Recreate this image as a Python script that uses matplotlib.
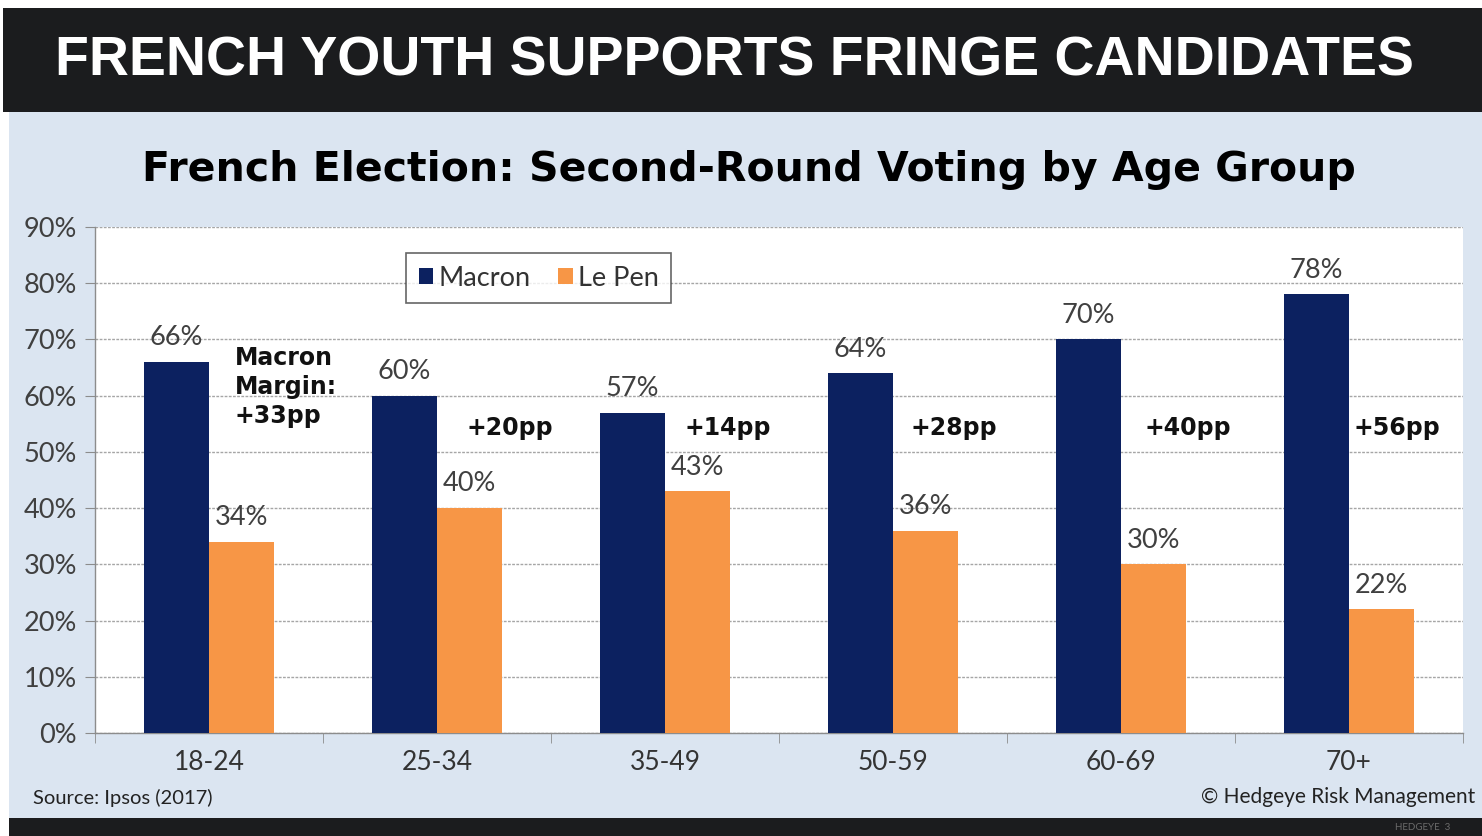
import matplotlib
matplotlib.use("Agg")
import matplotlib.pyplot as plt
from matplotlib.patches import Rectangle
import numpy as np

# ---- data ----
age_groups = ["18-24", "25-34", "35-49", "50-59", "60-69", "70+"]
macron = [66, 60, 57, 64, 70, 78]
le_pen = [34, 40, 43, 36, 30, 22]
margins = ["Macron\nMargin:\n+33pp", "+20pp", "+14pp", "+28pp", "+40pp", "+56pp"]
y_ticks = [0, 10, 20, 30, 40, 50, 60, 70, 80, 90]

# ---- layout (not data) ----
margin_dx = [0.114, 0.318, 0.277, 0.267, 0.294, 0.21]
margin_y = [61.5, 54.3, 54.3, 54.3, 54.3, 54.3]

NAVY = "#0c2160"
ORANGE = "#f79646"
BG = "#dbe5f1"
W, H = 1482, 836

fig = plt.figure(figsize=(W / 100, H / 100), dpi=100)
fig.patch.set_facecolor(BG)
renderer = fig.canvas.get_renderer()

def px_rect(x0, y0, x1, y1, color):
    fig.add_artist(Rectangle((x0 / W, 1 - y1 / H), (x1 - x0) / W, (y1 - y0) / H,
                             transform=fig.transFigure, facecolor=color,
                             edgecolor="none", zorder=0))

def fit_width(t, target_px):
    w = t.get_window_extent(renderer).width
    t.set_fontsize(t.get_fontsize() * target_px / w)

px_rect(0, 0, W, 8, "white")
px_rect(0, 0, 9, H, "white")
px_rect(3, 8, W, 112, "#1b1c1e")
px_rect(9, 818, W, H, "#1b1c1e")

t1 = fig.text(55 / W, 1 - 62 / H, "FRENCH YOUTH SUPPORTS FRINGE CANDIDATES",
              color="white", fontsize=35, fontweight="bold", family="Liberation Sans",
              ha="left", va="center")
fit_width(t1, 1358)

t2 = fig.text(749 / W, 1 - 170 / H, "French Election: Second-Round Voting by Age Group",
              color="black", fontsize=29, fontweight="bold", family="DejaVu Sans",
              ha="center", va="center")
fit_width(t2, 1212)

ax = fig.add_axes([95 / W, (H - 733) / H, 1368 / W, 506 / H])
ax.set_facecolor("white")

x = np.arange(len(age_groups))
bw = 0.285
ax.bar(x - bw / 2, macron, bw, color=NAVY, label="Macron", zorder=3)
ax.bar(x + bw / 2, le_pen, bw, color=ORANGE, label="Le Pen", zorder=3)

for xi, v in zip(x, macron):
    ax.text(xi - bw / 2, v + 4.3, f"{v}%", ha="center", va="center",
            fontsize=19.5, color="#404040", family="Lato")
for xi, v in zip(x, le_pen):
    ax.text(xi + bw / 2, v + 4.3, f"{v}%", ha="center", va="center",
            fontsize=19.5, color="#404040", family="Lato")

for xi, m, dx, my in zip(x, margins, margin_dx, margin_y):
    ax.text(xi + dx, my, m, ha="left" if "\n" in m else "center", va="center",
            fontsize=17, fontweight="bold", color="#111111", family="DejaVu Sans",
            linespacing=1.25)

ax.set_xlim(-0.5, len(age_groups) - 0.5)
ax.set_ylim(0, 90)
ax.set_yticks(y_ticks)
ax.set_yticklabels([f"{t}%" for t in y_ticks])
ax.yaxis.grid(True, color="#a6a6a6", linestyle=(0, (2, 1)), linewidth=1, zorder=0)
ax.set_axisbelow(True)

ax.set_xticks(x)
ax.set_xticklabels(age_groups)
ax.set_xticks(np.arange(-0.5, len(age_groups)), minor=True)
ax.tick_params(axis="x", which="major", length=0, pad=12, labelsize=19,
               labelcolor="#333333")
ax.tick_params(axis="x", which="minor", length=7, color="#8c8c8c", direction="out")
ax.tick_params(axis="y", length=7, color="#8c8c8c", labelsize=19.5,
               labelcolor="#404040", pad=6)
for lab in ax.get_xticklabels() + ax.get_yticklabels():
    lab.set_family("Lato")

for s in ["top", "right"]:
    ax.spines[s].set_visible(False)
for s in ["left", "bottom"]:
    ax.spines[s].set_color("#8c8c8c")
    ax.spines[s].set_linewidth(1)

leg = ax.legend(loc="center", bbox_to_anchor=(0.3245, 0.899), ncol=2,
                frameon=True, fancybox=False, edgecolor="#404040",
                handlelength=0.55, handleheight=0.55,
                handletextpad=0.2, columnspacing=1.0, borderpad=0.45,
                prop={"family": "Lato", "size": 19.5})
leg.get_frame().set_linewidth(1.2)
for t in leg.get_texts():
    t.set_color("#333333")

fig.text(33 / W, 1 - 798 / H, "Source: Ipsos (2017)", fontsize=14.5,
         color="#222222", family="Lato", ha="left", va="center")
fig.text(1475 / W, 1 - 797 / H, "\u00a9 Hedgeye Risk Management", fontsize=15,
         color="#222222", family="Lato", ha="right", va="center")
fig.text(1450 / W, 1 - 828 / H, "HEDGEYE  3", fontsize=7, color="#6b6b6b",
         family="Lato", ha="right", va="center")

fig.savefig("out.png", dpi=100, facecolor=fig.get_facecolor())
